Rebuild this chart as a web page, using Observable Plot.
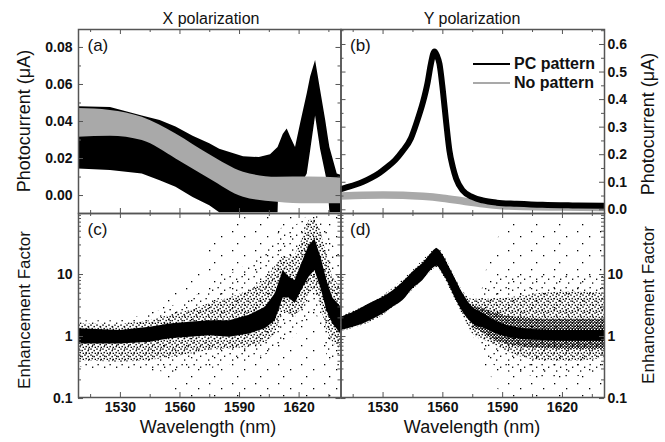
<!DOCTYPE html>
<html>
<head>
<meta charset="utf-8">
<script src="https://cdn.jsdelivr.net/npm/d3@7"></script>
<script src="https://cdn.jsdelivr.net/npm/@observablehq/plot@0.6"></script>
<style>
  body { margin: 0; background: #fff; }
  #wrap { position: relative; width: 665px; height: 442px; overflow: hidden; background: #fff;
          font-family: "Liberation Sans", Arial, sans-serif; color: #111; }
  #wrap svg { position: absolute; left: 0; top: 0; }
  .lbl { position: absolute; white-space: nowrap; transform: translate(-50%, -50%); line-height: 1; }
  .rot { transform: translate(-50%, -50%) rotate(-90deg); }
  .leg { position: absolute; height: 0; }
  .legtxt { position: absolute; font-weight: bold; font-size: 16px; transform: translateY(-50%); line-height: 1; white-space: nowrap; }
</style>
</head>
<body>
<svg width="0" height="0" style="position:absolute">
  <defs>
    <pattern id="dotsDense" width="3" height="3" patternUnits="userSpaceOnUse">
      <rect x="0" y="0.2" width="1.5" height="1.5" fill="#000"/>
      <rect x="1.5" y="1.5" width="1.5" height="1.5" fill="#000"/>
    </pattern>
    <pattern id="dotsMid" width="6" height="6" patternUnits="userSpaceOnUse">
      <rect x="0.3" y="0.4" width="1.4" height="1.4" fill="#000"/>
      <rect x="3.5" y="1.9" width="1.4" height="1.4" fill="#000"/>
      <rect x="1.5" y="3.9" width="1.4" height="1.4" fill="#000"/>
      <rect x="4.6" y="4.7" width="1.4" height="1.4" fill="#000"/>
    </pattern>
    <pattern id="dotsSparse" width="12" height="11" patternUnits="userSpaceOnUse">
      <rect x="1.5" y="1" width="1.3" height="1.3" fill="#000"/>
      <rect x="8" y="3.6" width="1.3" height="1.3" fill="#000"/>
      <rect x="4" y="7.4" width="1.3" height="1.3" fill="#000"/>
    </pattern>
    <pattern id="dotsFaint" width="23" height="19" patternUnits="userSpaceOnUse">
      <rect x="2" y="3" width="1.3" height="1.3" fill="#000"/>
      <rect x="14" y="8" width="1.3" height="1.3" fill="#000"/>
      <rect x="7" y="15" width="1.3" height="1.3" fill="#000"/>
    </pattern>
  </defs>
</svg>
<div id="wrap">
  <div class="lbl" style="left:211px;top:19px;font-size:16px">X polarization</div>
  <div class="lbl" style="left:472px;top:19px;font-size:16px">Y polarization</div>
  <div class="lbl rot" style="left:24px;top:121px;font-size:18px">Photocurrent (μA)</div>
  <div class="lbl rot" style="left:24px;top:310px;font-size:17px">Enhancement Factor</div>
  <div class="lbl rot" style="left:648px;top:124px;font-size:18px">Photocurrent (μA)</div>
  <div class="lbl rot" style="left:648px;top:305px;font-size:17px">Enhancement Factor</div>
  <div class="lbl" style="left:208px;top:427px;font-size:18px">Wavelength (nm)</div>
  <div class="lbl" style="left:472px;top:427px;font-size:18px">Wavelength (nm)</div>
</div>
<script>
// ---------------- data ----------------
// (a) X polarization, photocurrent (µA); noisy traces given as lower/upper envelopes
const aPcWl   = [1508.9,1525,1541,1550,1558,1566.6,1575,1580,1592,1600,1605.6,1609.4,1609.8,1612,1614,1616,1618.2,1620.8,1624.1,1625.8,1628.3,1630.8,1633.4,1634.6,1635.5,1639.2,1641.1];
const aPcLow  = [0.0144,0.0135,0.0117,0.008,0.0045,-0.001,-0.0055,-0.0093,-0.0093,-0.0093,-0.0093,-0.0093,0.005,0.005,0.005,0.005,0.005,0.005,0.0117,0.024,0.043,0.025,0.0117,0.005,-0.0093,-0.0093,-0.0093];
const aPcHigh = [0.048,0.0475,0.043,0.0405,0.037,0.032,0.028,0.025,0.021,0.0205,0.022,0.026,0.027,0.033,0.036,0.031,0.026,0.039,0.055,0.064,0.073,0.057,0.0405,0.032,0.026,0.0117,0.011];
const aNoWl   = [1508.9,1525,1541,1558,1575,1592,1609,1625,1641.1];
const aNoLow  = [0.0315,0.032,0.0297,0.0198,0.009,-0.0009,-0.0036,-0.0045,-0.0045];
const aNoHigh = [0.047,0.046,0.0423,0.0333,0.022,0.0126,0.0099,0.0100,0.0095];

// (b) Y polarization, photocurrent (µA)
const bPcWl  = [1508.9,1512,1516,1520,1524,1528,1532,1536,1540,1544,1547,1550,1552.3,1554,1555.8,1557,1558.3,1560,1561.7,1563.3,1565,1566.7,1570,1575,1580,1587,1597,1610,1625,1641.1];
const bPcVal = [0.075,0.082,0.091,0.102,0.116,0.133,0.155,0.18,0.215,0.26,0.32,0.39,0.46,0.53,0.575,0.56,0.53,0.433,0.315,0.215,0.155,0.113,0.07,0.046,0.034,0.026,0.022,0.018,0.016,0.015];
const bNoWl  = [1508.9,1520,1530,1540,1550,1560,1570,1580,1590,1600,1620,1641.1];
const bNoVal = [0.050,0.053,0.054,0.053,0.049,0.042,0.032,0.022,0.015,0.012,0.010,0.008];

// (c) X polarization, enhancement factor: solid core, halo, sparse scatter and outlier envelopes
const cWl       = [1508.9,1530,1545,1555,1565,1575,1585,1595,1603,1608,1612,1615,1618,1622,1625,1628,1631,1634,1637,1641.1];
const cCoreLow  = [0.76,0.76,0.81,0.92,0.97,1.03,0.97,1.1,1.33,1.8,4.2,4.2,3.4,6.1,9,11.6,6,2.6,1.6,1.1];
const cCoreHigh = [1.33,1.25,1.41,1.6,1.7,1.8,1.8,2.2,2.97,4.9,11.6,9,8,16.9,29,37,19,8,4.2,3];
const cMidLow   = [0.41,0.38,0.41,0.46,0.52,0.6,0.63,0.67,0.8,1.1,2.6,2.3,2.0,3,4.9,6,3,1.3,0.8,0.6];
const cMidHigh  = [1.6,1.55,1.8,2.2,2.6,3.4,4.2,5.5,8,13.6,20,18,20,40,74,80,50,20,9,6];
const cSpWl     = [1508.9,1530,1545,1555,1565,1575,1585,1595,1603,1608,1612,1618,1625,1628,1631,1634,1637,1641.1];
const cSpLow    = [0.32,0.28,0.3,0.25,0.3,0.3,0.35,0.4,0.5,0.6,0.8,1,2,2.5,1.5,0.5,0.35,0.3];
const cSpHigh   = [1.8,1.8,2.3,3,4,6,10,15,25,40,60,60,90,96,90,60,30,20];
const cOutWl    = [1545,1555,1565,1575,1585,1600,1641.1];
const cOutLow   = [0.3,0.15,0.104,0.104,0.104,0.104,0.104];
const cOutHigh  = [2.3,4,10,30,70,96,96];

// (d) Y polarization, enhancement factor
const dWl       = [1508.9,1515,1520,1525,1530,1535,1540,1545,1550,1554,1557,1560,1563,1566,1570,1575,1580,1585,1590,1600,1610,1620,1630,1641.1];
const dCoreLow  = [1.25,1.41,1.6,1.9,2.3,2.97,3.8,5.9,8,11.6,13.6,10.3,7,4.3,2.5,1.6,1.38,1.17,1.02,0.9,0.86,0.84,0.84,0.84];
const dCoreHigh = [2.05,2.45,2.97,3.6,4.3,5.5,7.5,11,15,21.4,26,20.6,13.6,8.9,5,2.97,2.4,1.9,1.6,1.35,1.28,1.25,1.25,1.25];
const dTailWl   = [1575,1580,1585,1590,1600,1610,1620,1630,1641.1];
const dTailLow  = [1.4,1.15,0.9,0.78,0.68,0.64,0.62,0.62,0.62];
const dTailHigh = [3.3,2.8,2.5,2.2,2.0,1.9,1.9,1.9,1.9];
const dMidWl    = [1508.9,1530,1545,1554,1557,1560,1566,1570,1575,1585,1595,1610,1625,1641.1];
const dMidLow   = [1.2,2.2,5.6,11,13,9.8,4,2.2,1.1,0.76,0.52,0.41,0.4,0.45];
const dMidHigh  = [2.15,4.5,11.5,22.5,27,22,9.5,5.5,4,4,4.3,5,5.3,5];
const dSpWl     = [1575,1585,1595,1610,1625,1641.1];
const dSpLow    = [1.0,0.35,0.25,0.22,0.22,0.25];
const dSpHigh   = [4.5,8,10,10,10,10];
const dOutWl    = [1580,1590,1600,1641.1];
const dOutLow   = [0.4,0.104,0.104,0.104];
const dOutHigh  = [8,60,70,70];

// ticks
const xMajorTicks = [1530,1560,1590,1620];
const xMinorTicks = [1515,1545,1575,1605,1635];
const aYTicks = [0,0.02,0.04,0.06,0.08];
const aYMinor = [0.01,0.03,0.05,0.07];
const bYTicks = [0,0.1,0.2,0.3,0.4,0.5,0.6];
const bYMinor = [0.05,0.15,0.25,0.35,0.45,0.55,0.65];
const logTicks = [0.1,1,10];
const logMinor = [0.2,0.3,0.4,0.5,0.6,0.7,0.8,0.9,2,3,4,5,6,7,8,9,20,30,40,50,60,70,80,90];

// ---------------- drawing ----------------
const band = (wl, lo, hi) => wl.map((w, i) => ({w, lo: lo[i], hi: hi[i]}));
const pts = (wl, v) => wl.map((w, i) => ({w, v: v[i]}));
const xDomain = [1508.9, 1641.1];
const W = 665, H = 442;
const tickStroke = {stroke: "#555", strokeWidth: 1};

function frameTicks(fw, fh, yMaj, yMin) {
  const m = [];
  for (const [vals, len] of [[xMajorTicks, 5], [xMinorTicks, 3]]) {
    m.push(Plot.ruleX(vals, {x: d => d, insetTop: fh - len, ...tickStroke}));
    m.push(Plot.ruleX(vals, {x: d => d, insetBottom: fh - len, ...tickStroke}));
  }
  for (const [vals, len] of [[yMaj, 5], [yMin, 3]]) {
    m.push(Plot.ruleY(vals, {y: d => d, insetRight: fw - len, ...tickStroke}));
    m.push(Plot.ruleY(vals, {y: d => d, insetLeft: fw - len, ...tickStroke}));
  }
  return m;
}

function panel([l, t, r, b], y, marks) {
  const svg = Plot.plot({
    width: W, height: H,
    marginLeft: l, marginTop: t, marginRight: W - r, marginBottom: H - b,
    x: {domain: xDomain, axis: null},
    y,
    style: {background: "transparent", fontFamily: "'Liberation Sans', Arial, sans-serif", color: "#111", overflow: "visible"},
    marks: [
      ...marks,
      ...frameTicks(r - l, b - t, y.tickVals, y.tickMinor),
      Plot.frame({stroke: "#555", strokeWidth: 1.5})
    ]
  });
  document.getElementById("wrap").appendChild(svg);
}

const labelFont = {fontSize: 17, textAnchor: "start", lineAnchor: "top", frameAnchor: "top-left", dx: 9, dy: 9};
const tickFont = {fontSize: 14, fontWeight: "bold", label: null, tickSize: 0};
const bandArea = (data, fill, curve = "linear") =>
  Plot.areaY(data, {x: "w", y1: "lo", y2: "hi", fill, curve, clip: true});

// (a)
panel([78, 29, 340.5, 213],
  {domain: [-0.0097, 0.0897], tickVals: aYTicks, tickMinor: aYMinor},
  [
    bandArea(band(aPcWl, aPcLow, aPcHigh), "#000"),
    bandArea(band(aNoWl, aNoLow, aNoHigh), "#a9a9a9", "monotone-x"),
    Plot.axisY(aYTicks, {anchor: "left", tickPadding: 6, tickFormat: d3.format(".2f"), ...tickFont}),
    Plot.text(["(a)"], {text: d => d, ...labelFont})
  ]);

// (b)
panel([340.5, 29, 604, 213],
  {domain: [-0.0134, 0.6544], tickVals: bYTicks, tickMinor: bYMinor},
  [
    Plot.line(pts(bNoWl, bNoVal), {x: "w", y: "v", stroke: "#a9a9a9", strokeWidth: 7.5, curve: "monotone-x", clip: true}),
    Plot.line(pts(bPcWl, bPcVal), {x: "w", y: "v", stroke: "#000", strokeWidth: 6, curve: "monotone-x", clip: true}),
    Plot.axisY(bYTicks, {anchor: "right", tickPadding: 3, tickFormat: d3.format(".1f"), ...tickFont}),
    Plot.text(["(b)"], {text: d => d, ...labelFont})
  ]);

const logFmt = d => d < 1 ? "0.1" : String(d);

// (c)
panel([78, 213, 340.5, 397],
  {type: "log", domain: [0.104, 96.4], tickVals: logTicks, tickMinor: logMinor},
  [
    bandArea(band(cOutWl, cOutLow, cOutHigh), "url(#dotsFaint)"),
    bandArea(band(cSpWl, cSpLow, cSpHigh), "url(#dotsSparse)"),
    bandArea(band(cWl, cMidLow, cMidHigh), "url(#dotsMid)"),
    bandArea(band(cWl, cCoreLow, cCoreHigh), "#000"),
    Plot.axisY(logTicks, {anchor: "left", tickPadding: 6, tickFormat: logFmt, ...tickFont}),
    Plot.axisX(xMajorTicks, {anchor: "bottom", tickPadding: 5, tickFormat: d => String(d), ...tickFont}),
    Plot.text(["(c)"], {text: d => d, ...labelFont})
  ]);

// (d)
panel([340.5, 213, 604, 397],
  {type: "log", domain: [0.104, 96.4], tickVals: logTicks, tickMinor: logMinor},
  [
    bandArea(band(dOutWl, dOutLow, dOutHigh), "url(#dotsFaint)"),
    bandArea(band(dSpWl, dSpLow, dSpHigh), "url(#dotsSparse)"),
    bandArea(band(dMidWl, dMidLow, dMidHigh), "url(#dotsMid)", "monotone-x"),
    bandArea(band(dTailWl, dTailLow, dTailHigh), "url(#dotsDense)", "monotone-x"),
    bandArea(band(dWl, dCoreLow, dCoreHigh), "#000", "monotone-x"),
    Plot.axisY(logTicks, {anchor: "right", tickPadding: 3, tickFormat: logFmt, ...tickFont}),
    Plot.axisX(xMajorTicks, {anchor: "bottom", tickPadding: 5, tickFormat: d => String(d), ...tickFont}),
    Plot.text(["(d)"], {text: d => d, ...labelFont})
  ]);

// legend for (b)
const wrap = document.getElementById("wrap");
const legendItems = ["PC pattern", "No pattern"];
const legendColors = ["#000", "#a9a9a9"];
legendItems.forEach((name, i) => {
  const y = 64 + i * 19;
  const line = document.createElement("div");
  line.className = "leg";
  line.style.cssText = `left:473px;top:${y - 1}px;width:37px;border-top:2px solid ${legendColors[i]};`;
  wrap.appendChild(line);
  const t = document.createElement("div");
  t.className = "legtxt";
  t.style.left = "514px"; t.style.top = y + "px";
  t.textContent = name;
  wrap.appendChild(t);
});
</script>
</body>
</html>
